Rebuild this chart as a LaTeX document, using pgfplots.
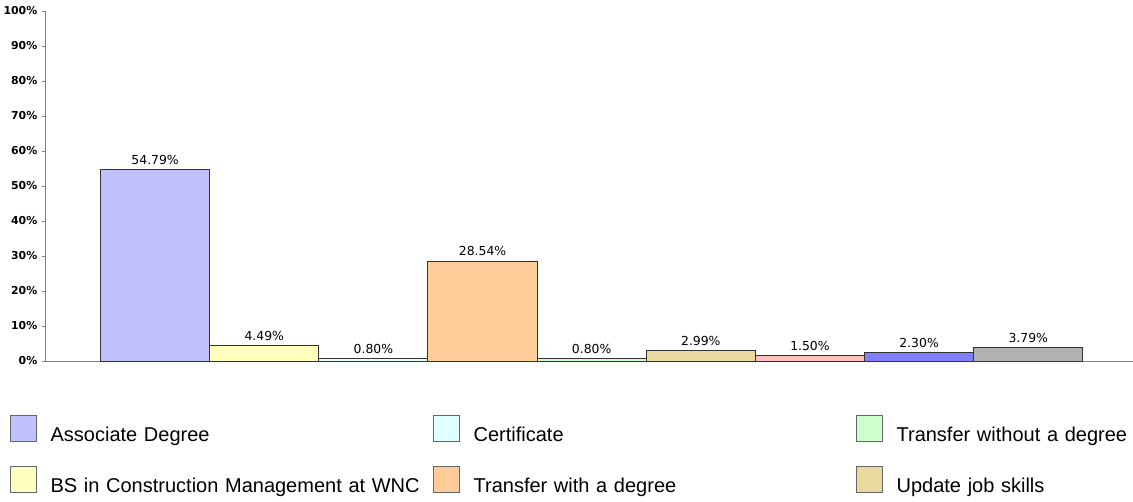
\documentclass[border=0pt]{standalone}
\usepackage{fontspec}
\setmainfont{DejaVu Sans}
\newfontfamily\legfont{Liberation Sans}
\usepackage{pgfplots}
\pgfplotsset{compat=1.18}
\definecolor{cA}{HTML}{C0C0FF}
\definecolor{cB}{HTML}{FFFFC0}
\definecolor{cC}{HTML}{E0FFFF}
\definecolor{cD}{HTML}{FFCC99}
\definecolor{cE}{HTML}{CCFFCC}
\definecolor{cF}{HTML}{E8DA9E}
\definecolor{cG}{HTML}{FFC0C0}
\definecolor{cH}{HTML}{8080FF}
\definecolor{cI}{HTML}{B2B2B2}
\pgfplotsset{sq/.style={legend image code/.code={\draw[fill=#1, draw=black!60, line width=0.75pt] (0pt,-9.75pt) rectangle (19.5pt,9.75pt);}}}
\begin{document}
\begin{tikzpicture}
\begin{axis}[name=ax, scale only axis, width=815.25pt, height=262.5pt,
  xmin=-1.0, xmax=8.96, ymin=0, ymax=100,
  axis lines*=left,
  axis line style={draw=black!50, line width=0.75pt},
  xtick=\empty, ytick={0,10,...,100},
  yticklabel={\pgfmathprintnumber{\tick}\%},
  /pgf/number format/assume math mode=true,
  yticklabel style={font=\fontsize{8.2}{10}\selectfont\bfseries},
  tick align=outside, major tick length=3pt,
  tick style={draw=black!50, line width=0.75pt},
  clip=false,
  every axis plot/.append style={ybar, bar width=1, bar shift=0pt, line width=0.75pt, draw=black!80},
  nodes near coords={\pgfmathprintnumber[fixed,precision=2,zerofill]{\pgfplotspointmeta}\%},
  every node near coord/.append style={font=\fontsize{9.3}{11}\selectfont, text=black},
  legend columns=3,
  legend cell align=left,
  legend style={at={(axis description cs:-0.0331,-0.1543)}, anchor=north west,
    draw=none, fill=none, inner sep=0pt,
    font=\legfont\fontsize{15}{18}\selectfont,
    row sep=17.6pt,
    nodes={text width=287pt, inner sep=0pt, yshift=-4.5pt},
    /tikz/every odd column/.append style={column sep=10pt}},
]
\addplot[fill=cA, forget plot] coordinates {(0,54.79)};
\addplot[fill=cB, forget plot] coordinates {(1,4.49)};
\addplot[fill=cC, forget plot] coordinates {(2,0.80)};
\addplot[fill=cD, forget plot] coordinates {(3,28.54)};
\addplot[fill=cE, forget plot] coordinates {(4,0.80)};
\addplot[fill=cF, forget plot] coordinates {(5,2.99)};
\addplot[fill=cG, forget plot] coordinates {(6,1.50)};
\addplot[fill=cH, forget plot] coordinates {(7,2.30)};
\addplot[fill=cI, forget plot] coordinates {(8,3.79)};
\addlegendimage{sq=cA}\addlegendentry{Associate Degree}
\addlegendimage{sq=cC}\addlegendentry{Certificate}
\addlegendimage{sq=cE}\addlegendentry{Transfer without a degree}
\addlegendimage{sq=cB}\addlegendentry{BS in Construction Management at WNC}
\addlegendimage{sq=cD}\addlegendentry{Transfer with a degree}
\addlegendimage{sq=cF}\addlegendentry{Update job skills}
\end{axis}
\pgfresetboundingbox
\path[use as bounding box] ([xshift=-34.5pt, yshift=-105pt]ax.south west) rectangle ([yshift=8.25pt]ax.north east);
\end{tikzpicture}
\end{document}
